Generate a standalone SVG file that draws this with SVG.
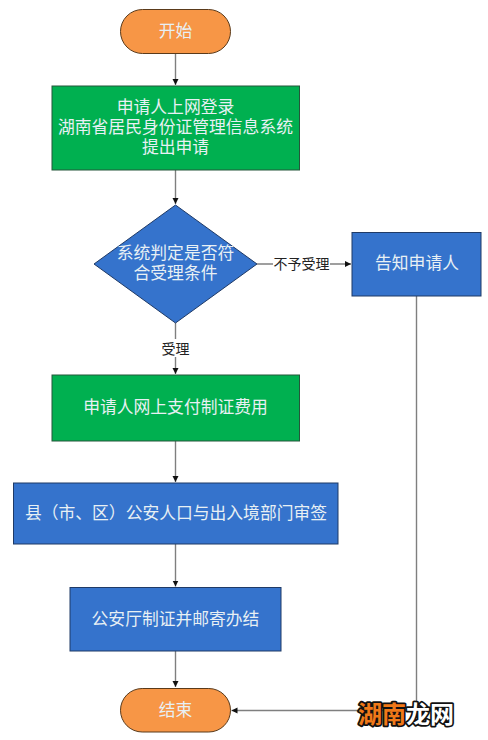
<svg xmlns="http://www.w3.org/2000/svg" width="488" height="740" viewBox="0 0 488 740">
<style>
text{font-family:"Noto Sans CJK SC","Noto Sans",sans-serif;text-anchor:middle;dominant-baseline:central}
.t{fill:#e8f0f4;font-size:16.8px}
.l{fill:#222;font-size:14px}
.o{fill:#f79646;stroke:#5a3a1a;stroke-width:1}
.g{fill:#00b050;stroke:#24573a;stroke-width:1}
.b{fill:#3573cc;stroke:#1f3a66;stroke-width:1}
.c{fill:none;stroke:#7f7f7f;stroke-width:1.4}
.w{font-size:24px;font-weight:700;stroke:#111;stroke-width:3.5px;paint-order:stroke;stroke-linejoin:round}
</style>
<defs><marker id="a" markerWidth="7" markerHeight="7" refX="6" refY="3" orient="auto" markerUnits="userSpaceOnUse"><path d="M0 0L6 3L0 6Z" fill="#111"/></marker></defs>
<rect width="488" height="740" fill="#fff"/>
<g id="connectors">
<path class="c" d="M175.500 53V85" marker-end="url(#a)"/>
<path class="c" d="M175.500 170V204" marker-end="url(#a)"/>
<path class="c" d="M175.500 323V374" marker-end="url(#a)"/>
<path class="c" d="M257 264H351" marker-end="url(#a)"/>
<path class="c" d="M175.500 441V482" marker-end="url(#a)"/>
<path class="c" d="M175.500 544V586.500" marker-end="url(#a)"/>
<path class="c" d="M175.500 651V687" marker-end="url(#a)"/>
<path class="c" d="M416.500 296V710.500H231.500" marker-end="url(#a)"/>
<rect x="273" y="255" width="57" height="18" fill="#fff"/>
<rect x="160" y="339" width="31" height="18" fill="#fff"/>
<text class="l" x="301.500" y="263">不予受理</text>
<text class="l" x="175.500" y="348">受理</text>
</g>
<g id="start"><rect class="o" x="120.500" y="9.500" width="110" height="44" rx="22"/><text class="t" x="175.500" y="30">开始</text></g>
<g id="apply"><rect class="g" x="52" y="86" width="247.500" height="84"/><text class="t"><tspan x="175.500" y="106">申请人上网登录</tspan><tspan x="175.500" y="126">湖南省居民身份证管理信息系统</tspan><tspan x="175.500" y="146">提出申请</tspan></text></g>
<g id="decision"><path class="b" d="M175.500 205L257 264L175.500 323L94 264Z"/><text class="t"><tspan x="175.500" y="252">系统判定是否符</tspan><tspan x="175.500" y="272">合受理条件</tspan></text></g>
<g id="notify"><rect class="b" x="352" y="232.500" width="129" height="63.500"/><text class="t" x="417" y="262">告知申请人</text></g>
<g id="pay"><rect class="g" x="52" y="375" width="247.500" height="66"/><text class="t" x="175.500" y="405.500">申请人网上支付制证费用</text></g>
<g id="review"><rect class="b" x="13.500" y="483" width="324.500" height="61"/><text class="t" x="176" y="511.500">县（市、区）公安人口与出入境部门审签</text></g>
<g id="issue"><rect class="b" x="70" y="587.500" width="211" height="63.500"/><text class="t" x="175.500" y="617.500">公安厅制证并邮寄办结</text></g>
<g id="end"><rect class="o" x="120.500" y="688.500" width="110" height="43.500" rx="21.700"/><text class="t" x="175.500" y="708.500">结束</text></g>
<g id="watermark"><text class="w" x="382" y="712" fill="#f07818">湖南</text><text class="w" x="430" y="712" fill="#fff">龙网</text></g>
</svg>
